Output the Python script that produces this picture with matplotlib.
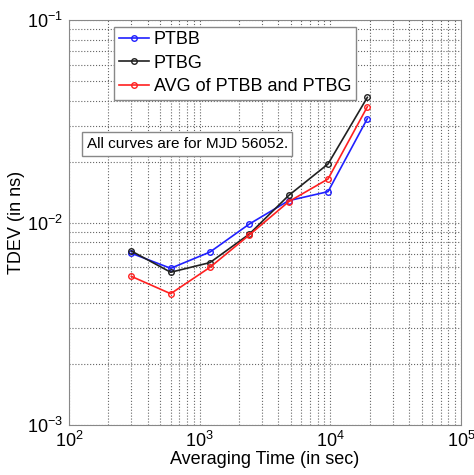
import numpy as np
import matplotlib.pyplot as plt

plt.rcParams['font.family'] = ['Liberation Sans', 'DejaVu Sans']

# averaging times (s) and TDEV values (ns)
tau = [300, 600, 1200, 2400, 4800, 9600, 19200]
ptbb = [0.00705, 0.00594, 0.00715, 0.00983, 0.01282, 0.0142, 0.0326]
ptbg = [0.00723, 0.00568, 0.00634, 0.00877, 0.0136, 0.01945, 0.0415]
avg = [0.00542, 0.00445, 0.00601, 0.00868, 0.01267, 0.0164, 0.0373]

fig = plt.figure(figsize=(4.74, 4.75), dpi=100)
ax = fig.add_axes([69/474, 50/475, 392/474, 405/475])

ax.loglog(tau, ptbb, '-o', color='#2020ff', lw=1.2, ms=4, mfc='none', mew=1, label='PTBB')
ax.loglog(tau, ptbg, '-o', color='#202020', lw=1.2, ms=4, mfc='none', mew=1, label='PTBG')
ax.loglog(tau, avg, '-o', color='#ff2020', lw=1.2, ms=4, mfc='none', mew=1, label='AVG of PTBB and PTBG')

ax.set_xlim(1e2, 1e5)
ax.set_ylim(1e-3, 1e-1)
ax.grid(True, which='both', linestyle=':', color='#666666', lw=0.8)
ax.tick_params(which='both', length=0, labelsize=13, pad=4)
for s in ax.spines.values():
    s.set_color('#888888')

ax.set_xlabel('Averaging Time (in sec)', fontsize=13, labelpad=0)
ax.set_ylabel('TDEV (in ns)', fontsize=13, labelpad=2)

leg = ax.legend(loc='upper left', bbox_to_anchor=(0.115, 0.983), fontsize=13,
                fancybox=False, framealpha=1, edgecolor='#888888',
                handlelength=1.7, handletextpad=0.25, borderpad=0.25, labelspacing=0.35,
                borderaxespad=0)
leg.get_frame().set_linewidth(1)

ax.text(0.045, 0.694, 'All curves are for MJD 56052.', transform=ax.transAxes,
        fontsize=11, va='center', ha='left',
        bbox=dict(boxstyle='square,pad=0.3', fc='white', ec='#888888', lw=1))

plt.savefig('out.png', dpi=100)
